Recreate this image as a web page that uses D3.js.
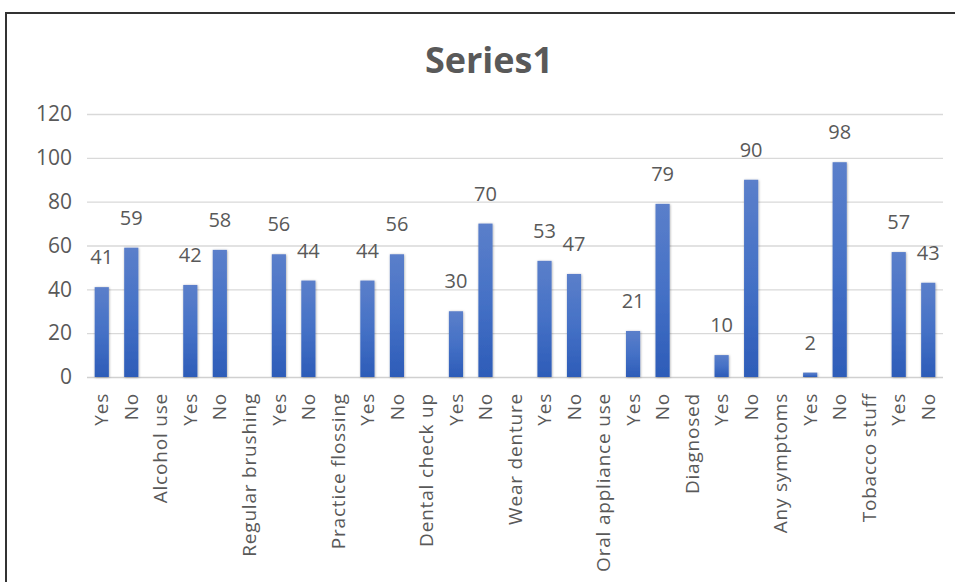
<!DOCTYPE html>
<html>
<head>
<meta charset="utf-8">
<script src="https://cdn.jsdelivr.net/npm/d3@7"></script>
<style>
  body { margin: 0; background: #fff; }
  text { font-family: "Open Sans", "Noto Sans", sans-serif; fill: #595959; }
</style>
</head>
<body>
<div id="chart"></div>
<script>
// slots along the x axis: group titles sit in empty slots between Yes/No pairs
const categories = [
  "Yes", "No", "Alcohol use", "Yes", "No", "Regular brushing", "Yes", "No",
  "Practice flossing", "Yes", "No", "Dental check up", "Yes", "No", "Wear denture",
  "Yes", "No", "Oral appliance use", "Yes", "No", "Diagnosed", "Yes", "No",
  "Any symptoms", "Yes", "No", "Tobacco stuff", "Yes", "No"
];
const values = [
  41, 59, null, 42, 58, null, 56, 44,
  null, 44, 56, null, 30, 70, null,
  53, 47, null, 21, 79, null, 10, 90,
  null, 2, 98, null, 57, 43
];
const yTicks = [0, 20, 40, 60, 80, 100, 120];

const width = 955;
const height = 582;
const margin = { top: 114, right: 12, bottom: 205, left: 87 };

const data = categories.map((c, i) => ({ key: i, label: c, value: values[i] }));

const svg = d3.select("#chart")
  .append("svg")
  .attr("width", width)
  .attr("height", height);

const defs = svg.append("defs");
const grad = defs.append("linearGradient")
  .attr("id", "barGrad")
  .attr("x1", 0).attr("y1", 0).attr("x2", 0).attr("y2", 1);
grad.append("stop").attr("offset", "0%").attr("stop-color", "#5b7fca");
grad.append("stop").attr("offset", "50%").attr("stop-color", "#4571c6");
grad.append("stop").attr("offset", "100%").attr("stop-color", "#2d5cb8");

const shadow = defs.append("filter").attr("id", "shadow")
  .attr("x", "-50%").attr("y", "-10%").attr("width", "200%").attr("height", "120%");
shadow.append("feDropShadow")
  .attr("dx", 0.5).attr("dy", 0.5).attr("stdDeviation", 1.2)
  .attr("flood-color", "#000").attr("flood-opacity", 0.35);

// chart border (only top and left edges visible in the crop)
svg.append("rect")
  .attr("x", 6).attr("y", 13)
  .attr("width", width + 10).attr("height", height + 10)
  .attr("fill", "none")
  .attr("stroke", "#333")
  .attr("stroke-width", 2);

const chartWidth = width - margin.left - margin.right;
const chartHeight = height - margin.top - margin.bottom;

const g = svg.append("g")
  .attr("transform", `translate(${margin.left},${margin.top})`);

const x = d3.scaleBand()
  .domain(data.map(d => d.key))
  .range([0, chartWidth])
  .paddingInner(0.52)
  .paddingOuter(0.26);

const y = d3.scaleLinear()
  .domain([0, 120])
  .range([chartHeight, 0]);

// gridlines + y labels
const yAxis = g.append("g")
  .call(d3.axisLeft(y).tickValues(yTicks).tickSize(-chartWidth).tickPadding(15));
yAxis.select(".domain").remove();
yAxis.selectAll(".tick line")
  .attr("stroke", d => d === 0 ? "#d0d0d0" : "#d9d9d9")
  .attr("stroke-width", 1.3);
yAxis.selectAll(".tick text")
  .style("font-size", "21px")
  .attr("fill", "#595959");

// x labels
const xAxis = g.append("g")
  .attr("transform", `translate(0,${chartHeight})`)
  .call(d3.axisBottom(x).tickSize(0).tickFormat(i => categories[i]));
xAxis.select(".domain").remove();
xAxis.selectAll("text")
  .attr("transform", "rotate(-90)")
  .attr("x", -16)
  .attr("y", 0)
  .attr("dy", "0.35em")
  .style("text-anchor", "end")
  .style("font-size", "19px")
  .style("letter-spacing", "0.8px")
  .attr("fill", "#595959");

const bars = data.filter(d => d.value !== null);

g.selectAll("rect.bar")
  .data(bars)
  .enter()
  .append("rect")
  .attr("class", "bar")
  .attr("x", d => x(d.key))
  .attr("y", d => y(d.value))
  .attr("width", x.bandwidth())
  .attr("height", d => chartHeight - y(d.value))
  .attr("fill", "url(#barGrad)")
  .attr("filter", "url(#shadow)");

g.selectAll("text.label")
  .data(bars)
  .enter()
  .append("text")
  .attr("class", "label")
  .attr("x", d => x(d.key) + x.bandwidth() / 2)
  .attr("y", d => y(d.value) - 23)
  .attr("text-anchor", "middle")
  .style("font-size", "20px")
  .text(d => d.value);

svg.append("text")
  .attr("x", 489)
  .attr("y", 73)
  .attr("text-anchor", "middle")
  .style("font-size", "36px")
  .style("font-weight", "bold")
  .text("Series1");
</script>
</body>
</html>
